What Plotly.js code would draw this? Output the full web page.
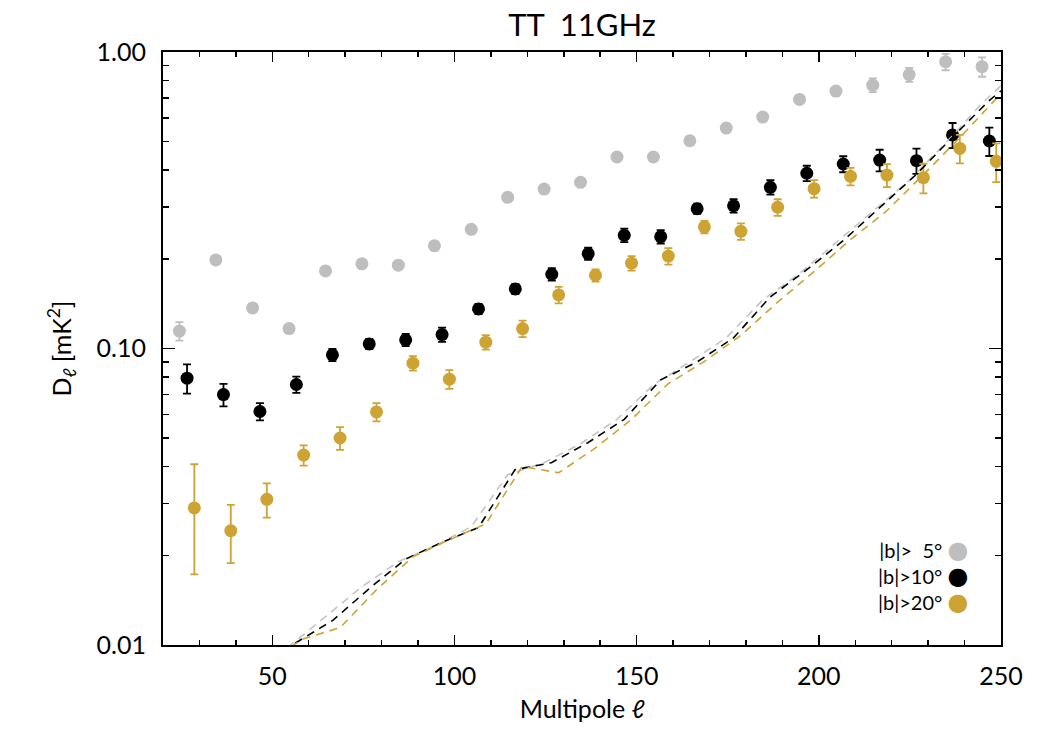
<!DOCTYPE html>
<html>
<head>
<meta charset="utf-8">
<script src="https://cdn.plot.ly/plotly-3.0.1.min.js"></script>
<style>
  html, body { margin: 0; padding: 0; background: white; }
  #plotly-chart { width: 1050px; height: 750px; }
</style>
</head>
<body>
<div id="plotly-chart"></div>
<script>
// binned D_ell values, three latitude cuts
const ellB5 = [24.5, 34.5, 44.6, 54.6, 64.6, 74.6, 84.6, 94.5, 104.6, 114.6, 124.6, 134.6,
               144.6, 154.6, 164.6, 174.6, 184.6, 194.7, 204.7, 214.8, 224.8, 234.8, 244.8];
const dlB5 = [0.1145, 0.199, 0.137, 0.1167, 0.1826, 0.193, 0.191, 0.222, 0.2524, 0.3236, 0.345, 0.3636,
              0.4425, 0.4425, 0.502, 0.554, 0.6035, 0.692, 0.738, 0.773, 0.838, 0.927, 0.892];
const errB5 = [0.0082, 0.0063, 0.0032, 0.0027, 0.004, 0.004, 0.004, 0.005, 0.005, 0.007, 0.007, 0.008,
               0.010, 0.010, 0.012, 0.014, 0.016, 0.020, 0.025, 0.041, 0.045, 0.059, 0.067];

const ellB10 = [26.6, 36.6, 46.6, 56.6, 66.5, 76.6, 86.6, 96.6, 106.6, 116.7, 126.7, 136.7,
                146.6, 156.6, 166.6, 176.6, 186.7, 196.7, 206.7, 216.7, 226.8, 236.7, 246.8];
const dlB10 = [0.0794, 0.0699, 0.0613, 0.0756, 0.0951, 0.1036, 0.1069, 0.1114, 0.136, 0.1588, 0.178, 0.209,
               0.241, 0.2383, 0.296, 0.303, 0.3497, 0.390, 0.419, 0.432, 0.430, 0.525, 0.501];
const errB10 = [0.0090, 0.0061, 0.0041, 0.0048, 0.0045, 0.0041, 0.0051, 0.0062, 0.0054, 0.0063, 0.0085, 0.010,
                0.0125, 0.0123, 0.0117, 0.0157, 0.0196, 0.0234, 0.026, 0.036, 0.0419, 0.0512, 0.0551];

const ellB20 = [28.6, 38.6, 48.5, 58.6, 68.6, 78.6, 88.6, 98.6, 108.6, 118.7, 128.6, 138.7,
                148.6, 158.7, 168.6, 178.6, 188.7, 198.7, 208.7, 218.7, 228.7, 238.7, 248.7];
const dlB20 = [0.0290, 0.0243, 0.0310, 0.0437, 0.0499, 0.0611, 0.0892, 0.0788, 0.105, 0.1167, 0.1516, 0.1766,
               0.194, 0.205, 0.257, 0.2485, 0.2995, 0.346, 0.3808, 0.3846, 0.3767, 0.473, 0.428];
const errB20 = [0.0117, 0.0054, 0.0041, 0.0034, 0.0044, 0.0043, 0.0050, 0.0057, 0.0059, 0.0075, 0.0097, 0.0084,
                0.0109, 0.0131, 0.0123, 0.0159, 0.0192, 0.0235, 0.0259, 0.0342, 0.0432, 0.052, 0.064];

// dashed curves (noise level), same cuts
const noiseX5 = [44.6, 54.6, 64.6, 74.6, 84.6, 94.6, 104.6, 114.6, 124.6, 134.6, 144.6,
                 154.6, 164.6, 174.6, 184.6, 194.6, 204.6, 214.6, 224.6, 234.6, 244.6, 250];
const noiseY5 = [0.0082, 0.0099, 0.01246, 0.01573, 0.0191, 0.02161, 0.02504, 0.0375, 0.0412, 0.0477, 0.0577,
                 0.0754, 0.0901, 0.1086, 0.1458, 0.1784, 0.227, 0.2886, 0.367, 0.4894, 0.6673, 0.77];
const noiseX10 = [46.6, 56.6, 66.6, 76.6, 86.6, 96.6, 106.6, 116.6, 126.6, 136.6, 146.6,
                  156.6, 166.6, 176.6, 186.6, 196.6, 206.6, 216.6, 226.6, 236.6, 246.6, 250];
const noiseY10 = [0.0085, 0.0102, 0.0121, 0.0155, 0.0195, 0.0222, 0.0249, 0.0390, 0.0412, 0.0481, 0.0577,
                  0.0784, 0.0901, 0.1086, 0.149, 0.184, 0.2305, 0.2978, 0.3847, 0.5146, 0.683, 0.74];
const noiseX20 = [48.6, 58.6, 68.6, 78.6, 88.6, 98.6, 108.6, 118.6, 128.6, 138.6, 148.6,
                  158.6, 168.6, 178.6, 188.6, 198.6, 208.6, 218.6, 228.6, 238.6, 248.6, 250];
const noiseY20 = [0.0088, 0.0105, 0.01144, 0.01536, 0.01984, 0.02264, 0.02563, 0.0400, 0.0381, 0.0461, 0.0577,
                  0.076, 0.0905, 0.1107, 0.143, 0.1813, 0.2323, 0.291, 0.3847, 0.5126, 0.694, 0.725];

const cutNames = ['|b|>\u00a0\u00a05°', '|b|>10°', '|b|>20°'];
const yTickVals = [0.01, 0.1, 1];
const yTickText = ['0.01', '0.10', '1.00'];
const yMinorVals = [0.02, 0.03, 0.04, 0.05, 0.06, 0.07, 0.08, 0.09,
                    0.2, 0.3, 0.4, 0.5, 0.6, 0.7, 0.8, 0.9];

const GRAY = '#bebebe';
const BLACK = '#000000';
const GOLD = '#cda434';
const FONT = 'Lato, "Liberation Sans", sans-serif';

function points(x, y, err, color, name) {
    return {
        x: x, y: y, type: 'scatter', mode: 'markers', name: name,
        marker: { color: color, size: 13 },
        error_y: { type: 'data', array: err, visible: true, color: color, thickness: 1.8, width: 4 },
        cliponaxis: true
    };
}

function noise(x, y, color) {
    return {
        x: x, y: y, type: 'scatter', mode: 'lines', showlegend: false,
        line: { color: color, width: 1.6, dash: '8px,6px' }
    };
}

const data = [
    points(ellB5, dlB5, errB5, GRAY, cutNames[0]),
    points(ellB10, dlB10, errB10, BLACK, cutNames[1]),
    points(ellB20, dlB20, errB20, GOLD, cutNames[2]),
    noise(noiseX5, noiseY5, '#c4c4c4'),
    noise(noiseX10, noiseY10, BLACK),
    noise(noiseX20, noiseY20, GOLD)
];

// legend as one block of text, marker after the label like the original
const legendColors = [GRAY, BLACK, GOLD];
const legendText = cutNames.map((n, i) =>
    n + ' <span style="color:' + legendColors[i] + ';font-family:DejaVu Sans;font-size:24px">●</span>'
).join('<br>');

const layout = {
    width: 1050,
    height: 750,
    margin: { l: 163, r: 49, t: 52, b: 105 },
    paper_bgcolor: 'white',
    plot_bgcolor: 'white',
    showlegend: false,
    font: { family: FONT, size: 25, color: '#000' },
    title: {
        text: 'TT\u00a0\u00a011GHz',
        x: 0.5, xref: 'paper', xanchor: 'center',
        y: 0.967, yanchor: 'middle',
        font: { family: FONT, size: 31, color: '#000' }
    },
    xaxis: {
        range: [20, 250],
        tickvals: [50, 100, 150, 200, 250],
        ticks: 'inside', ticklen: 10, tickwidth: 1.5, tickcolor: '#000',
        minor: { dtick: 10, tick0: 0, ticks: 'inside', ticklen: 5, tickwidth: 1.5, tickcolor: '#000' },
        showline: true, linewidth: 2, linecolor: '#000', mirror: 'ticks',
        showgrid: false, zeroline: false,
        ticklabelstandoff: 8,
        tickfont: { size: 25 },
        title: { text: 'Multipole <i>ℓ</i>', font: { size: 25 }, standoff: 11 }
    },
    yaxis: {
        type: 'log',
        range: [-2, 0],
        tickvals: yTickVals, ticktext: yTickText,
        ticks: 'inside', ticklen: 12, tickwidth: 1.5, tickcolor: '#000',
        minor: { tickvals: yMinorVals, ticks: 'inside', ticklen: 6, tickwidth: 1.5, tickcolor: '#000' },
        showline: true, linewidth: 2, linecolor: '#000', mirror: 'ticks',
        showgrid: false, zeroline: false,
        ticklabelstandoff: 10,
        tickfont: { size: 25 },
        title: { text: 'D<sub><i>ℓ</i></sub> [mK<sup>2</sup>]', font: { size: 25 }, standoff: 18 }
    },
    annotations: [{
        xref: 'paper', yref: 'paper', x: 0.963, y: 0.116,
        xanchor: 'right', yanchor: 'middle', align: 'right', showarrow: false,
        text: legendText,
        font: { family: FONT, size: 20, color: '#000' }
    }]
};

Plotly.newPlot('plotly-chart', data, layout, { staticPlot: true });
</script>
</body>
</html>
